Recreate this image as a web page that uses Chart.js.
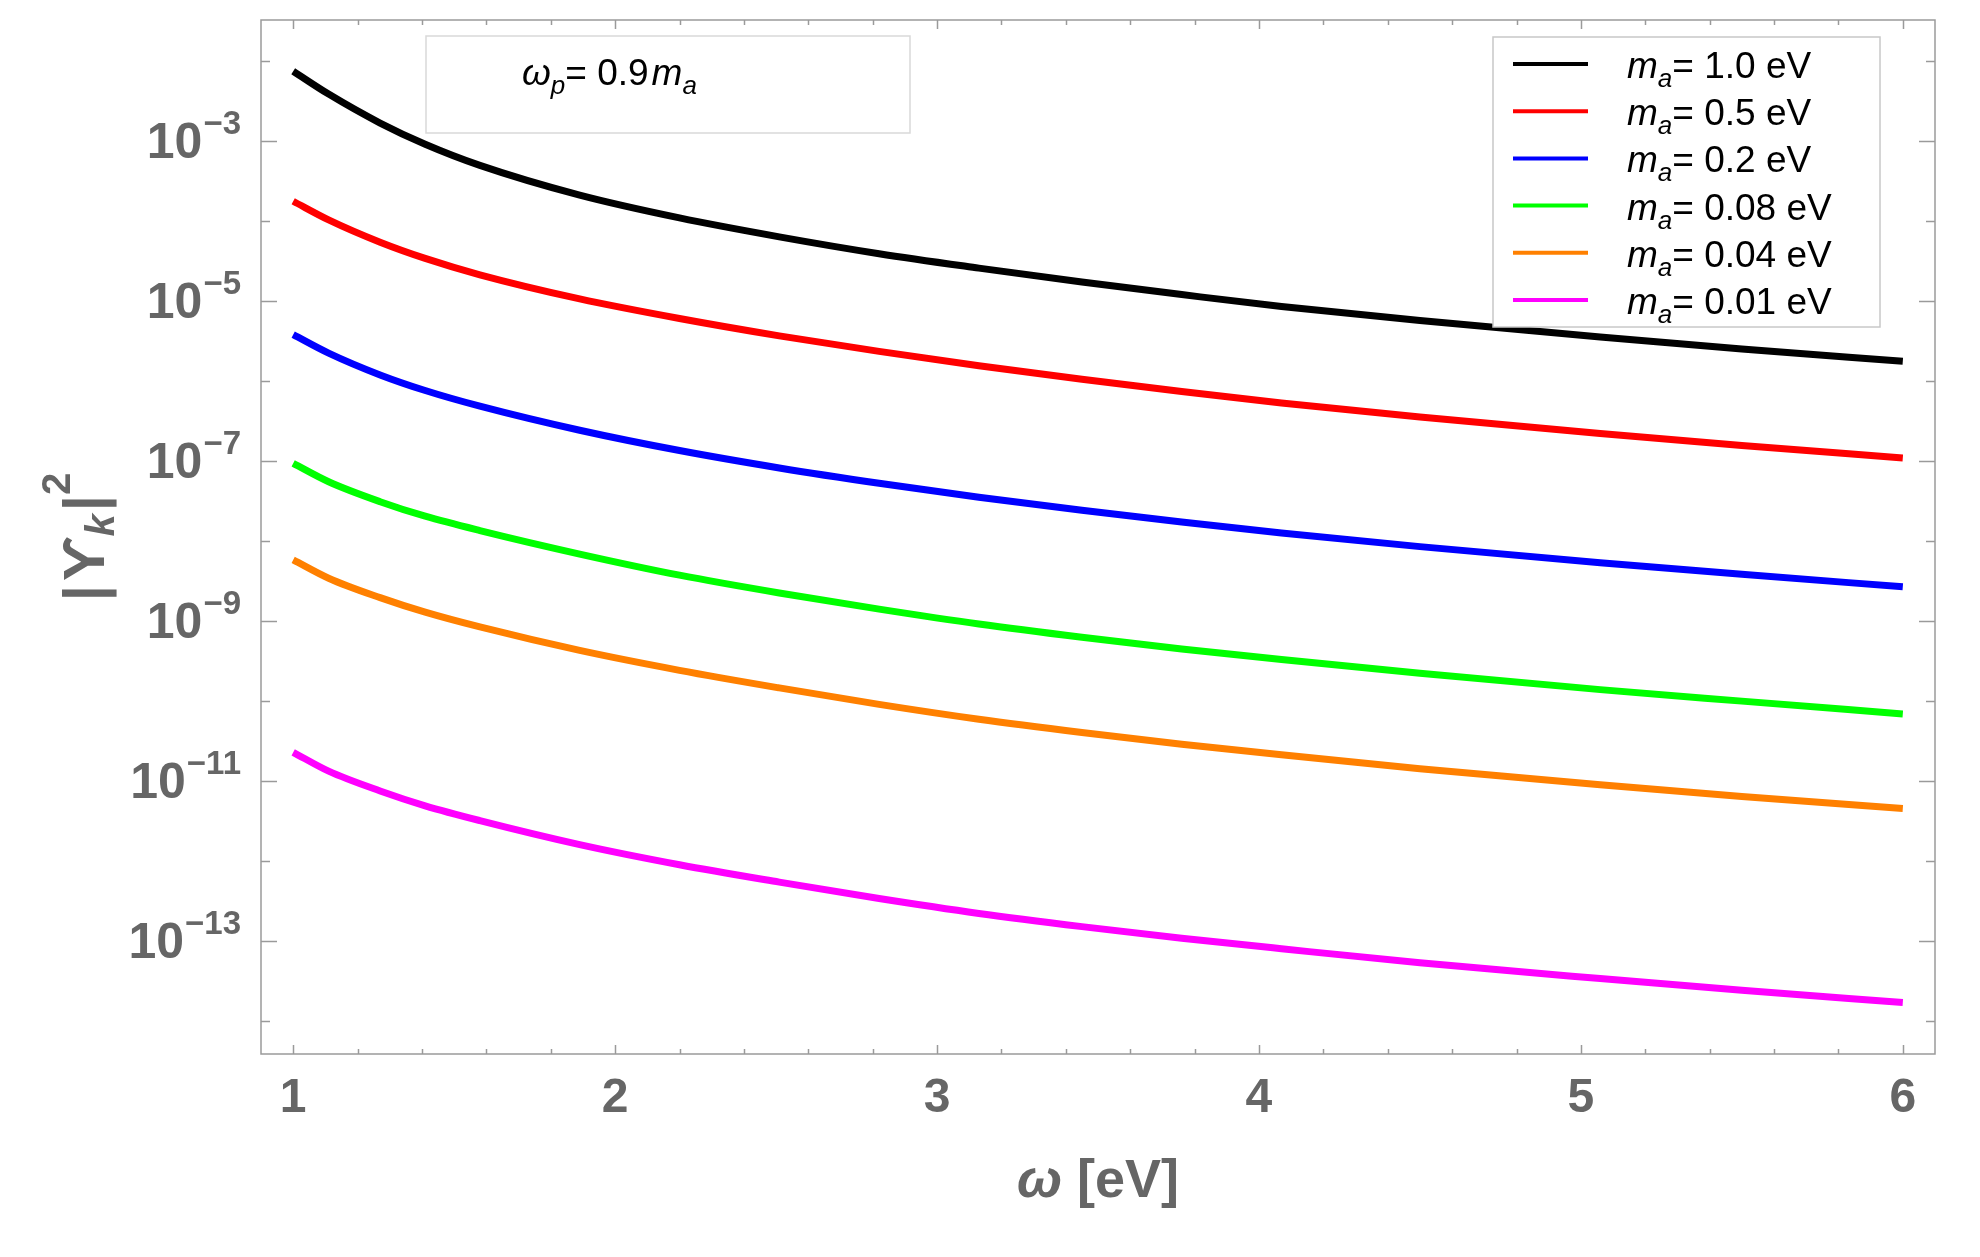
<!DOCTYPE html>
<html>
<head>
<meta charset="utf-8">
<script src="https://cdn.jsdelivr.net/npm/chart.js@4.4.1/dist/chart.umd.min.js"></script>
<style>
  html, body { margin: 0; padding: 0; background: #fff; }
  canvas { display: block; }
</style>
</head>
<body>
<canvas id="myChart" width="1980" height="1257"></canvas>
<script>
const omega = [1.0, 1.11, 1.27, 1.41, 1.58, 1.89, 2.2, 2.51, 2.82, 3.13, 3.45, 3.76, 4.07, 4.5, 5.06, 5.5, 6.0];

// |Y_k|^2 for each axion mass
const ma100 = [7.41e-3, 3.84e-3, 1.67e-3, 9.08e-4, 4.94e-4, 2.10e-4, 1.09e-4, 6.32e-5, 3.89e-5, 2.57e-5, 1.72e-5, 1.20e-5, 8.51e-6, 5.69e-6, 3.55e-6, 2.51e-6, 1.76e-6];
const ma050 = [1.76e-4, 1.03e-4, 5.42e-5, 3.40e-5, 2.12e-5, 1.06e-5, 6.03e-6, 3.66e-6, 2.34e-6, 1.55e-6, 1.05e-6, 7.38e-7, 5.31e-7, 3.54e-7, 2.20e-7, 1.56e-7, 1.09e-7];
const ma020 = [3.80e-6, 2.23e-6, 1.19e-6, 7.60e-7, 4.84e-7, 2.42e-7, 1.35e-7, 8.18e-8, 5.26e-8, 3.52e-8, 2.42e-8, 1.73e-8, 1.26e-8, 8.51e-9, 5.35e-9, 3.83e-9, 2.68e-9];
const ma008 = [9.33e-8, 5.50e-8, 3.10e-8, 2.04e-8, 1.35e-8, 6.87e-9, 3.74e-9, 2.24e-9, 1.41e-9, 9.18e-10, 6.27e-10, 4.48e-10, 3.30e-10, 2.22e-10, 1.39e-10, 9.98e-11, 6.90e-11];
const ma004 = [5.82e-9, 3.43e-9, 1.96e-9, 1.29e-9, 8.43e-10, 4.29e-10, 2.42e-10, 1.46e-10, 9.10e-11, 5.93e-11, 4.05e-11, 2.89e-11, 2.13e-11, 1.43e-11, 8.99e-12, 6.44e-12, 4.56e-12];
const ma001 = [2.29e-11, 1.33e-11, 7.53e-12, 4.91e-12, 3.21e-12, 1.61e-12, 9.02e-13, 5.47e-13, 3.41e-13, 2.22e-13, 1.52e-13, 1.09e-13, 8.04e-14, 5.36e-14, 3.41e-14, 2.44e-14, 1.71e-14];

const massLabels = ['1.0 eV', '0.5 eV', '0.2 eV', '0.08 eV', '0.04 eV', '0.01 eV'];
const lineColors = ['#000000', '#ff0000', '#0000ff', '#00ff00', '#ff8000', '#ff00ff'];

// axes
const xTicks = [1, 2, 3, 4, 5, 6];
const yLabelExps = [-3, -5, -7, -9, -11, -13];
const yTickExps = [-2, -3, -4, -5, -6, -7, -8, -9, -10, -11, -12, -13, -14];

const series = [ma100, ma050, ma020, ma008, ma004, ma001];

const FONT = "'Liberation Sans', 'DejaVu Sans', sans-serif";
const GRAY = '#666666';

// draw a run of text pieces, each with its own font and vertical shift
const drawPieces = (ctx, x, y, pieces) => {
    pieces.forEach(p => {
        ctx.font = p.font;
        ctx.fillText(p.text, x + (p.dx || 0), y + (p.dy || 0));
        x += ctx.measureText(p.text).width + (p.dx || 0);
    });
    return x;
};

const measurePieces = (ctx, pieces) => {
    let w = 0;
    pieces.forEach(p => {
        ctx.font = p.font;
        w += ctx.measureText(p.text).width + (p.dx || 0);
    });
    return w;
};

// frame, inward ticks, y labels, titles, inset box and legend
const decorations = {
    id: 'decorations',
    beforeDatasetsDraw(chart) {
        const ctx = chart.ctx;
        // inset box with the plasma frequency note
        ctx.save();
        ctx.fillStyle = '#ffffff';
        ctx.fillRect(426, 36, 484, 97);
        ctx.strokeStyle = '#d9d9d9';
        ctx.lineWidth = 1.5;
        ctx.strokeRect(426, 36, 484, 97);
        ctx.fillStyle = '#000000';
        ctx.textBaseline = 'alphabetic';
        drawPieces(ctx, 522, 85, [
            { text: 'ω', font: `italic 37px ${FONT}` },
            { text: 'p', font: `italic 26px ${FONT}`, dy: 9 },
            { text: '= 0.9', font: `37px ${FONT}` },
            { text: 'm', font: `italic 37px ${FONT}`, dx: 3 },
            { text: 'a', font: `italic 26px ${FONT}`, dy: 9 },
        ]);
        ctx.restore();
    },
    afterDraw(chart) {
        const ctx = chart.ctx;
        const area = chart.chartArea;
        const xs = chart.scales.x;
        const ys = chart.scales.y;
        ctx.save();

        // frame
        ctx.strokeStyle = '#9a9a9a';
        ctx.lineWidth = 1.5;
        ctx.strokeRect(area.left, area.top, area.right - area.left, area.bottom - area.top);

        // y ticks on both sides
        ctx.beginPath();
        yTickExps.forEach(e => {
            const py = Math.round(ys.getPixelForValue(Math.pow(10, e))) + 0.5;
            const len = yLabelExps.includes(e) ? 16 : 9;
            ctx.moveTo(area.left, py);
            ctx.lineTo(area.left + len, py);
            ctx.moveTo(area.right, py);
            ctx.lineTo(area.right - len, py);
        });
        // x ticks, majors at integers and minors every 0.2
        for (let i = 0; i <= 25; i++) {
            const v = 1 + i * 0.2;
            const px = Math.round(xs.getPixelForValue(v)) + 0.5;
            const len = i % 5 === 0 ? 9 : 5;
            ctx.moveTo(px, area.bottom);
            ctx.lineTo(px, area.bottom - len);
            ctx.moveTo(px, area.top);
            ctx.lineTo(px, area.top + len);
        }
        ctx.stroke();

        // y tick labels 10^n
        ctx.fillStyle = GRAY;
        ctx.textBaseline = 'alphabetic';
        yLabelExps.forEach(e => {
            const py = ys.getPixelForValue(Math.pow(10, e));
            const pieces = [
                { text: '10', font: `bold 50px ${FONT}` },
                { text: '−' + Math.abs(e), font: `bold 33px ${FONT}`, dx: 1, dy: -24 },
            ];
            const w = measurePieces(ctx, pieces);
            drawPieces(ctx, 241 - w, py + 17, pieces);
        });

        // x axis title
        const xt = [
            { text: 'ω', font: `italic bold 54px ${FONT}` },
            { text: ' [eV]', font: `bold 54px ${FONT}` },
        ];
        const xtw = measurePieces(ctx, xt);
        drawPieces(ctx, (area.left + area.right) / 2 - xtw / 2, 1197, xt);

        // y axis title, rotated
        const yt = [
            { text: '|', font: `bold 58px ${FONT}` },
            { text: 'ϒ', font: `bold 58px ${FONT}`, dx: 4 },
            { text: 'k', font: `italic bold 40px ${FONT}`, dy: 10 },
            { text: '|', font: `bold 58px ${FONT}`, dx: 3 },
            { text: '2', font: `bold 40px ${FONT}`, dx: 0, dy: -34 },
        ];
        const ytw = measurePieces(ctx, yt);
        ctx.save();
        ctx.translate(104, 537 + ytw / 2);
        ctx.rotate(-Math.PI / 2);
        drawPieces(ctx, 0, 0, yt);
        ctx.restore();

        // legend
        ctx.fillStyle = '#ffffff';
        ctx.fillRect(1493, 37, 387, 290);
        ctx.strokeStyle = '#c8c8c8';
        ctx.lineWidth = 1.5;
        ctx.strokeRect(1493, 37, 387, 290);
        chart.data.datasets.forEach((ds, i) => {
            const ly = 64 + i * 47.2;
            ctx.strokeStyle = ds.borderColor;
            ctx.lineWidth = 4;
            ctx.beginPath();
            ctx.moveTo(1513, ly);
            ctx.lineTo(1588, ly);
            ctx.stroke();
            ctx.fillStyle = '#000000';
            drawPieces(ctx, 1627, ly + 14, [
                { text: 'm', font: `italic 37px ${FONT}` },
                { text: 'a', font: `italic 26px ${FONT}`, dy: 9 },
                { text: '= ' + massLabels[i], font: `37px ${FONT}` },
            ]);
        });

        ctx.restore();
    }
};

const chart = document.getElementById('myChart');

const data = {
    datasets: series.map((values, i) => ({
        label: 'm_a= ' + massLabels[i],
        data: omega.map((w, j) => ({ x: w, y: values[j] })),
        borderColor: lineColors[i],
        borderWidth: 7,
        pointRadius: 0,
        fill: false,
        cubicInterpolationMode: 'monotone',
    }))
};

const config = {
    type: 'line',
    data: data,
    options: {
        responsive: false,
        animation: false,
        devicePixelRatio: 1,
        layout: { padding: { top: 20, right: 45, left: 0, bottom: 0 } },
        plugins: {
            legend: { display: false },
            tooltip: { enabled: false },
        },
        scales: {
            x: {
                type: 'linear',
                min: 0.9,
                max: 6.1,
                grid: { display: false },
                border: { display: false },
                afterBuildTicks: (scale) => {
                    scale.ticks = xTicks.map(v => ({ value: v }));
                },
                afterFit: (scale) => { scale.height = 203; },
                ticks: {
                    color: GRAY,
                    padding: 8,
                    maxRotation: 0,
                    font: { family: FONT, size: 48, weight: 'bold' },
                },
            },
            y: {
                type: 'logarithmic',
                min: Math.pow(10, -14.41),
                max: Math.pow(10, -1.49),
                grid: { display: false },
                border: { display: false },
                ticks: { display: false },
                afterFit: (scale) => { scale.width = 261; },
            },
        },
    },
    plugins: [decorations],
};

const myChart = new Chart(chart, config);
</script>
</body>
</html>
